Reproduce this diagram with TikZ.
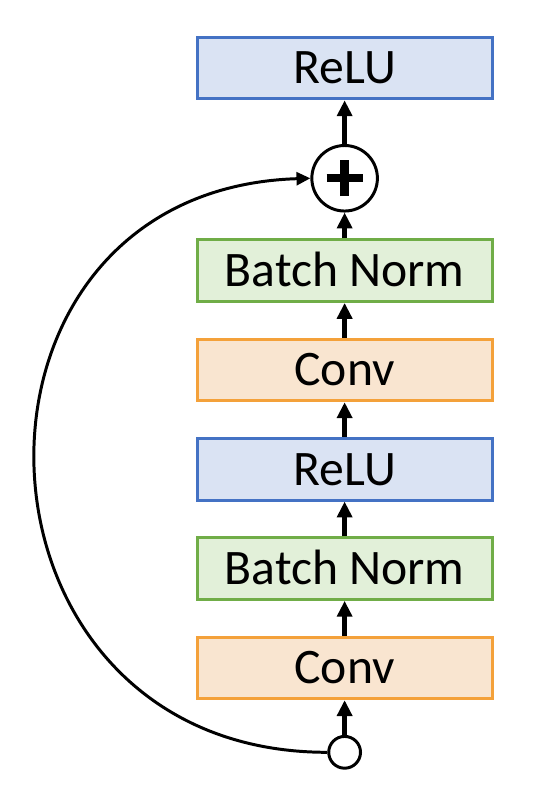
\documentclass[tikz,border=0pt]{standalone}
\usepackage{fontspec}
\setmainfont{Carlito}
\usepackage{tikz}
\usetikzlibrary{positioning,arrows.meta,calc}
\definecolor{cazul}{HTML}{4472C4}
\definecolor{cazulf}{HTML}{DAE3F3}
\definecolor{cverde}{HTML}{70AD47}
\definecolor{cverdef}{HTML}{E2F0D9}
\definecolor{cnaranja}{HTML}{F4A13A}
\definecolor{cnaranjaf}{HTML}{F9E5D0}
\tikzset{
  capa/.style={rectangle, line width=1.5pt, minimum width=148.5pt, minimum height=31pt,
    inner sep=0pt, text height=16pt, text depth=0pt, font=\fontsize{25}{28}\selectfont},
  capab/.style={capa, draw=cazul, fill=cazulf},
  capav/.style={capa, draw=cverde, fill=cverdef},
  capan/.style={capa, draw=cnaranja, fill=cnaranjaf},
  punto/.style={circle, draw, line width=1.5pt, fill=white, minimum size=16pt, inner sep=0pt},
  suma/.style={circle, draw, line width=1.5pt, fill=white, minimum size=33pt, inner sep=0pt,
    path picture={
      \draw[line width=4.2pt] ($(path picture bounding box.center)+(-9pt,0)$) -- +(18pt,0);
      \draw[line width=4.2pt] ($(path picture bounding box.center)+(0,-9pt)$) -- +(0,18pt);
    }},
  flecha/.style={-{Triangle[length=8pt,width=7.5pt]}, line width=2.4pt},
  curva/.style={-{Triangle[length=7pt,width=6.5pt]}, line width=1.5pt},
}
\begin{document}
\begin{tikzpicture}[node distance=17.5pt]
  \node[punto] (ent) at (0,0) {};
  \node[capan, above=of ent] (conv1) {Conv};
  \node[capav, above=of conv1] (bn1) {Batch Norm};
  \node[capab, above=of bn1] (relu1) {ReLU};
  \node[capan, above=of relu1] (conv2) {Conv};
  \node[capav, above=of conv2] (bn2) {Batch Norm};
  \node[suma, above=13pt of bn2] (sum) {};
  \node[capab, above=22pt of sum] (relu2) {ReLU};
  \draw[flecha] (ent) -- (conv1);
  \draw[flecha] (conv1) -- (bn1);
  \draw[flecha] (bn1) -- (relu1);
  \draw[flecha] (relu1) -- (conv2);
  \draw[flecha] (conv2) -- (bn2);
  \draw[flecha] (bn2) -- (sum);
  \draw[flecha] (sum) -- (relu2);
  \useasboundingbox ($(ent)+(-173.5pt,-23pt)$) rectangle ($(relu2.north)+(95.5pt,18pt)$);
  % atajo residual
  \draw[curva] (ent.west) .. controls +(-190pt,0pt) and +(-190pt,-6pt) .. (sum.west);
\end{tikzpicture}
\end{document}
